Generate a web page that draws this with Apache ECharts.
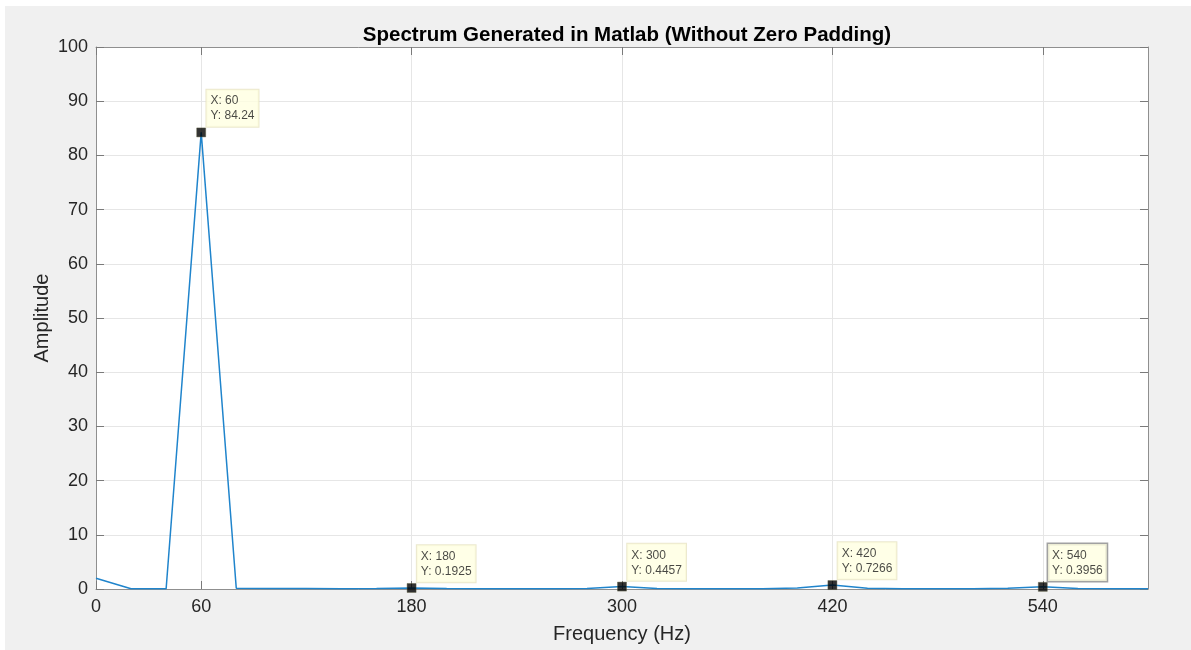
<!DOCTYPE html>
<html>
<head>
<meta charset="utf-8">
<script src="https://cdn.jsdelivr.net/npm/echarts@6/dist/echarts.min.js"></script>
<style>
  html, body { margin: 0; padding: 0; background: #ffffff; width: 1191px; height: 650px; overflow: hidden; }
  #chart { position: absolute; left: 5px; top: 6px; width: 1186px; height: 644px; background: #f0f0f0; }
</style>
</head>
<body>
<div id="chart"></div>
<script>
// Frequency bins (Hz) and amplitudes
const freqs = [0, 20, 40, 60, 80, 100, 120, 140, 160, 180, 200, 220, 240, 260, 280, 300,
               320, 340, 360, 380, 400, 420, 440, 460, 480, 500, 520, 540, 560, 580, 600];
const amps  = [2.0, 0.05, 0.05, 84.24, 0.15, 0.1, 0.08, 0.06, 0.08, 0.1925, 0.08, 0.05, 0.05, 0.05, 0.1, 0.4457,
               0.1, 0.05, 0.05, 0.05, 0.2, 0.7266, 0.15, 0.05, 0.05, 0.05, 0.15, 0.3956, 0.08, 0.05, 0.05];
// Data tips
const tipX = [60, 180, 300, 420, 540];
const tipY = [84.24, 0.1925, 0.4457, 0.7266, 0.3956];
// Axis ticks
const xTicks = [0, 60, 180, 300, 420, 540];
const yTicks = [0, 10, 20, 30, 40, 50, 60, 70, 80, 90, 100];

const FONT = 'Liberation Sans, Arial, Helvetica, sans-serif';
const AXIS_COLOR = '#8f8f8f';
const GRID_COLOR = '#e6e6e6';

const chart = echarts.init(document.getElementById('chart'), null, { renderer: 'canvas' });

function xAxisCfg(pos, showLabels) {
  return {
    type: 'value', position: pos, min: 0, max: 600,
    axisLine: { show: true, onZero: false, lineStyle: { color: AXIS_COLOR, width: 1 } },
    axisTick: { show: true, inside: true, length: 8, customValues: xTicks, lineStyle: { color: '#7a7a7a', width: 1 } },
    axisLabel: { show: showLabels, customValues: xTicks, color: '#262626', fontSize: 18, fontFamily: FONT, margin: 9 },
    splitLine: { show: showLabels, lineStyle: { color: GRID_COLOR, width: 1 } },
    name: showLabels ? 'Frequency (Hz)' : '',
    nameLocation: 'middle', nameGap: 35,
    nameTextStyle: { color: '#262626', fontSize: 20, fontFamily: FONT }
  };
}
function yAxisCfg(pos, showLabels) {
  return {
    type: 'value', position: pos, min: yTicks[0], max: yTicks[yTicks.length - 1], interval: 10,
    axisLine: { show: true, onZero: false, lineStyle: { color: AXIS_COLOR, width: 1 } },
    axisTick: { show: true, inside: true, length: 8, lineStyle: { color: '#7a7a7a', width: 1 } },
    axisLabel: { show: showLabels, color: '#262626', fontSize: 18, fontFamily: FONT, margin: 8 },
    splitLine: { show: showLabels, lineStyle: { color: GRID_COLOR, width: 1 } },
    name: showLabels ? 'Amplitude' : '',
    nameLocation: 'middle', nameGap: 44, nameRotate: 90, nameMoveOverlap: false,
    nameTextStyle: { color: '#262626', fontSize: 20, fontFamily: FONT }
  };
}

const lineData = freqs.map((f, i) => [f, amps[i]]);
const tipData = tipX.map((x, i) => [x, tipY[i]]);

chart.setOption({
  animation: false,
  backgroundColor: '#f0f0f0',
  title: {
    text: 'Spectrum Generated in Matlab (Without Zero Padding)',
    left: 617, top: 14, textAlign: 'center',
    textStyle: { color: '#000000', fontSize: 20.5, fontWeight: 'bold', fontFamily: FONT }
  },
  grid: { left: 91, top: 41, right: 43, bottom: 61, show: true, backgroundColor: '#ffffff', borderWidth: 0 },
  xAxis: [xAxisCfg('bottom', true), xAxisCfg('top', false)],
  yAxis: [yAxisCfg('left', true), yAxisCfg('right', false)],
  series: [
    {
      type: 'line', data: lineData, showSymbol: false, symbol: 'none',
      lineStyle: { color: '#1f84cc', width: 1.5 }, z: 3
    },
    {
      type: 'scatter', symbol: 'rect', symbolSize: 9,
      itemStyle: { color: '#000000', borderColor: '#5a5a3a', borderWidth: 0.5 },
      z: 5,
      label: {
        show: true, position: [10, -38], align: 'left', verticalAlign: 'top',
        formatter: p => 'X: ' + p.value[0] + '\nY: ' + p.value[1],
        backgroundColor: '#ffffe1',
        borderColor: '#e6e2c0', borderWidth: 1,
        padding: [4, 4, 3, 4],
        color: '#1a1a1a', fontSize: 12, lineHeight: 15, fontFamily: FONT
      },
      emphasis: { disabled: true },
      data: tipData.map((d, i) => i === tipData.length - 1
        ? { value: d, label: { borderColor: '#8a8a8a', borderWidth: 1.5 } }
        : { value: d })
    }
  ]
});
</script>
</body>
</html>
